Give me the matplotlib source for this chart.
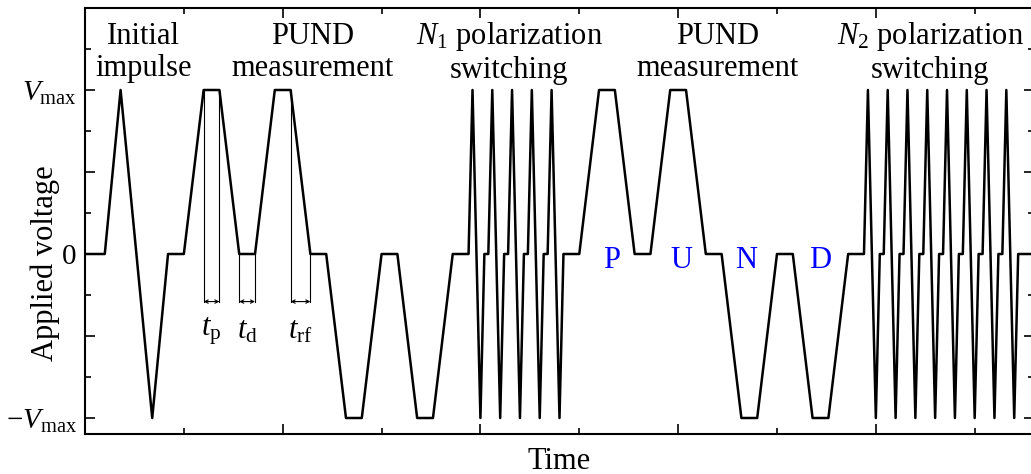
import matplotlib
matplotlib.use('Agg')
import matplotlib.pyplot as plt
from matplotlib.ticker import MultipleLocator

plt.rcParams['font.family'] = ['Liberation Serif', 'DejaVu Serif']
plt.rcParams['mathtext.fontset'] = 'custom'
plt.rcParams['mathtext.rm'] = 'Liberation Serif'
plt.rcParams['mathtext.it'] = 'Liberation Serif:italic'

# waveform breakpoints, time in arbitrary units, voltage in units of Vmax
impulse_t = [0.00, 0.20, 0.36, 0.68, 0.84]
impulse_v = [0, 0, 1, -1, 0]

pund1_t = [1.00, 1.20, 1.36, 1.56, 1.72, 1.92, 2.08, 2.28,
           2.44, 2.64, 2.80, 3.00, 3.16, 3.36, 3.52, 3.72]
pund1_v = [0, 1, 1, 0, 0, 1, 1, 0, 0, -1, -1, 0, 0, -1, -1, 0]

switch1_t = [3.88, 3.92, 4.00, 4.04,
             4.08, 4.12, 4.20, 4.24,
             4.28, 4.32, 4.40, 4.44,
             4.48, 4.52, 4.60, 4.64,
             4.68, 4.72, 4.80, 4.84]
switch1_v = [0, 1, -1, 0] * 5

pund2_t = [5.00, 5.20, 5.36, 5.56, 5.72, 5.92, 6.08, 6.28,
           6.44, 6.64, 6.80, 7.00, 7.16, 7.36, 7.52, 7.72]
pund2_v = [0, 1, 1, 0, 0, 1, 1, 0, 0, -1, -1, 0, 0, -1, -1, 0]

switch2_t = [7.88, 7.92, 8.00, 8.04,
             8.08, 8.12, 8.20, 8.24,
             8.28, 8.32, 8.40, 8.44,
             8.48, 8.52, 8.60, 8.64,
             8.68, 8.72, 8.80, 8.84,
             8.88, 8.92, 9.00, 9.04,
             9.08, 9.12, 9.20, 9.24,
             9.28, 9.32, 9.40, 9.44,
             9.60]
switch2_v = [0, 1, -1, 0] * 8 + [0]

# timing spans marked under the first PUND
span_t0 = [1.20, 1.56, 2.08]
span_t1 = [1.36, 1.72, 2.28]
span_v0 = [1, 0, 1]
span_v1 = [1, 0, 0]
span_labels = [r'$t_{\mathrm{p}}$', r'$t_{\mathrm{d}}$', r'$t_{\mathrm{rf}}$']
span_y = -0.29

# section titles and PUND letters
section_x = [0.59, 2.30, 4.29, 6.40, 8.55]
section_labels = ['Initial\nimpulse', 'PUND\nmeasurement',
                  '$N_1$ polarization\nswitching', 'PUND\nmeasurement',
                  '$N_2$ polarization\nswitching']
pund_x = [5.33, 6.03, 6.69, 7.44]
pund_letters = ['P', 'U', 'N', 'D']

t = impulse_t + pund1_t + switch1_t + pund2_t + switch2_t
v = impulse_v + pund1_v + switch1_v + pund2_v + switch2_v

fs = 22
fig = plt.figure(figsize=(10.31, 4.74), dpi=100)
ax = fig.add_axes([85 / 1031, 1 - 434.4 / 474, 949 / 1031, 426.4 / 474])

ax.plot(t, v, color='black', lw=1.8)

for a, b, va, vb, lab in zip(span_t0, span_t1, span_v0, span_v1, span_labels):
    ax.plot([a, a], [va, span_y], color='black', lw=0.8)
    ax.plot([b, b], [vb, span_y], color='black', lw=0.8)
    ax.annotate('', xy=(b, span_y), xytext=(a, span_y),
                arrowprops=dict(arrowstyle='<->', lw=0.8, color='black',
                                mutation_scale=6, shrinkA=0, shrinkB=0))
    ax.text((a + b) / 2, -0.47, lab, ha='center', va='center', fontsize=fs)

for x, lab in zip(section_x, section_labels):
    ax.text(x, 1.228, lab, ha='center', va='center', fontsize=fs,
            linespacing=1.12, multialignment='center')

for x, lab in zip(pund_x, pund_letters):
    ax.text(x, -0.04, lab, ha='center', va='center', fontsize=fs, color='#0000ff')

ax.set_xlim(0, 9.6)
ax.set_ylim(-1.1, 1.5)
ax.xaxis.set_major_locator(MultipleLocator(2))
ax.xaxis.set_minor_locator(MultipleLocator(1))
ax.set_xticklabels([])
ax.yaxis.set_minor_locator(MultipleLocator(0.25))
ax.set_yticks([-1, -0.5, 0, 0.5, 1])
ax.set_yticklabels([r'$-V_{\mathrm{max}}$', '', '0', '', r'$V_{\mathrm{max}}$'])
ax.tick_params(which='both', direction='in', top=True, right=True, labelsize=21, pad=6)
ax.tick_params(which='major', length=7, width=1.2)
ax.tick_params(which='minor', length=4, width=1.2)
for s in ax.spines.values():
    s.set_linewidth(1.5)

ax.set_xlabel('Time', fontsize=fs, labelpad=3)
ax.set_ylabel('Applied voltage', fontsize=fs, va='center')
ax.yaxis.set_label_coords(-40 / 949, 1 - 255 / 426.4)

fig.savefig('out.png', dpi=100)
